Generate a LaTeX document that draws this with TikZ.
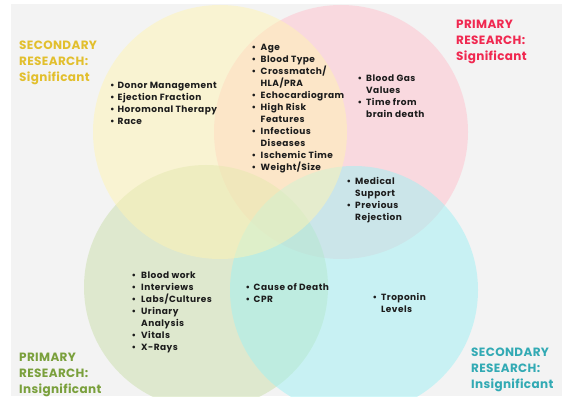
\documentclass[tikz,border=0pt]{standalone}
\usepackage{fontspec}
\setmainfont{Poppins}
\newfontfamily\hfont{Poppins}[LetterSpace=3]
\newfontfamily\bfont{Poppins}[LetterSpace=5]
\definecolor{bgg}{HTML}{F3F3F3}
\definecolor{cY}{HTML}{FFF3B3}
\definecolor{cP}{HTML}{FFC1CD}
\definecolor{cG}{HTML}{CBDFAB}
\definecolor{cC}{HTML}{9FF1F3}
\definecolor{hY}{HTML}{E2BF2D}
\definecolor{hP}{HTML}{F02850}
\definecolor{hG}{HTML}{7AA03C}
\definecolor{hC}{HTML}{32AAB4}
\definecolor{txt}{HTML}{1C1C1C}
\newlength\bw
\newcommand\bi[1]{\makebox[\bw][l]{•}#1}
\newcommand\ci[1]{\hspace*{\bw}#1}
\tikzset{
  venn/.style={fill opacity=0.5, draw=none},
  lst/.style={font=\bfont\fontsize{9}{12}\selectfont\bfseries, inner sep=0pt, anchor=base west, text=txt},
  hdr/.style={font=\hfont\fontsize{12}{16.2}\selectfont\bfseries, inner sep=0pt, anchor=base west},
}
\begin{document}
\begin{tikzpicture}[x=1pt,y=-1pt]
\useasboundingbox (0,0) rectangle (562,398);
\fill[bgg] (11,4) rectangle (562,396);
\begin{scope}
\clip (11,4) rectangle (562,396);
\fill[cP, venn] (341,132) circle[radius=127pt];
\fill[cG, venn] (206,287) circle[radius=122pt];
\fill[cC, venn] (354,290) circle[radius=124pt];
\fill[cY, venn] (220,132) circle[radius=127pt];
\end{scope}
% headers
\node[hdr, text=hY] (hss) at (19,49.3) {\begin{tabular}[t]{@{}l@{}}SECONDARY\\RESEARCH:\\Significant\end{tabular}};
\node[hdr, text=hP] (hps) at (456,28.3) {\begin{tabular}[t]{@{}l@{}}PRIMARY\\RESEARCH:\\Significant\end{tabular}};
\node[hdr, text=hG] (hpi) at (19,361) {\begin{tabular}[t]{@{}l@{}}PRIMARY\\RESEARCH:\\Insignificant\end{tabular}};
\node[hdr, text=hC] (hsi) at (471,356) {\begin{tabular}[t]{@{}l@{}}SECONDARY\\RESEARCH:\\Insignificant\end{tabular}};
% lists
\node[lst] (l1) at (110,88.2) {\setlength\bw{7.5pt}\begin{tabular}[t]{@{}l@{}}\bi{Donor Management}\\\bi{Ejection Fraction}\\\bi{Horomonal Therapy}\\\bi{Race}\end{tabular}};
\node[lst] (l2) at (251.5,50.2) {\setlength\bw{9pt}\begin{tabular}[t]{@{}l@{}}\bi{Age}\\\bi{Blood Type}\\\bi{Crossmatch/}\\\ci{HLA/PRA}\\\bi{Echocardiogram}\\\bi{High Risk}\\\ci{Features}\\\bi{Infectious}\\\ci{Diseases}\\\bi{Ischemic Time}\\\bi{Weight/Size}\end{tabular}};
\node[lst] (l3) at (357.5,82) {\setlength\bw{8.5pt}\begin{tabular}[t]{@{}l@{}}\bi{Blood Gas}\\\ci{Values}\\\bi{Time from}\\\ci{brain death}\end{tabular}};
\node[lst] (l4) at (346.5,185) {\setlength\bw{8.5pt}\begin{tabular}[t]{@{}l@{}}\bi{Medical}\\\ci{Support}\\\bi{Previous}\\\ci{Rejection}\end{tabular}};
\node[lst] (l5) at (131.5,278) {\setlength\bw{9.5pt}\begin{tabular}[t]{@{}l@{}}\bi{Blood work}\\\bi{Interviews}\\\bi{Labs/Cultures}\\\bi{Urinary}\\\ci{Analysis}\\\bi{Vitals}\\\bi{X-Rays}\end{tabular}};
\node[lst] (l6) at (245.5,290) {\setlength\bw{8pt}\begin{tabular}[t]{@{}l@{}}\bi{Cause of Death}\\\bi{CPR}\end{tabular}};
\node[lst] (l7) at (372.5,300) {\setlength\bw{8.5pt}\begin{tabular}[t]{@{}l@{}}\bi{Troponin}\\\ci{Levels}\end{tabular}};
\end{tikzpicture}
\end{document}
